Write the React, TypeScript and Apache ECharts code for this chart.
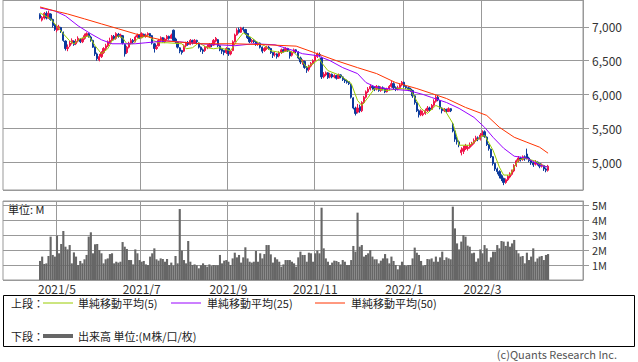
import React, { useEffect, useRef } from "react";
import * as echarts from "echarts";

const FONT = '"Noto Sans CJK JP", "Noto Sans", sans-serif';

// Japanese market holidays inside the displayed range
const holidays = [
  "2021-04-29", "2021-05-03", "2021-05-04", "2021-05-05", "2021-07-22", "2021-07-23",
  "2021-08-09", "2021-09-20", "2021-09-23", "2021-11-03", "2021-11-23", "2021-12-31",
  "2022-01-03", "2022-01-10", "2022-02-11", "2022-02-23", "2022-03-21", "2022-04-29",
  "2022-05-03", "2022-05-04", "2022-05-05",
];
const firstSlotDate = "2021-03-26";
const slotCount = 274;
const dataOffset = 17; // first candle = 2021/4/20

const monthTicks = ["2021/5", "2021/7", "2021/9", "2021/11", "2022/1", "2022/3"];

// [open, close, low, high] per trading day from 2021/4/20 to 2022/4/14
const candles: number[][] = [
  [7180, 7130, 7110, 7200], [7100, 7140, 7080, 7160], [7130, 7200, 7110, 7220], [7200, 7130, 7110, 7230], [7130, 7200, 7120, 7240],
  [7190, 7110, 7090, 7200], [7110, 7020, 6990, 7120], [7030, 6960, 6940, 7040], [6950, 7010, 6920, 7030], [6980, 7000, 6950, 7030],
  [6990, 6940, 6910, 7000], [6920, 6800, 6780, 6930], [6790, 6680, 6650, 6800], [6680, 6700, 6640, 6740], [6720, 6760, 6700, 6790],
  [6760, 6800, 6740, 6830], [6790, 6740, 6720, 6800], [6750, 6790, 6730, 6820], [6790, 6830, 6770, 6860], [6820, 6780, 6760, 6830],
  [6780, 6820, 6760, 6840], [6830, 6870, 6810, 6900], [6870, 6900, 6850, 6920], [6900, 6860, 6840, 6910], [6850, 6800, 6780, 6870],
  [6800, 6700, 6690, 6810], [6700, 6600, 6570, 6710], [6600, 6530, 6500, 6620], [6510, 6560, 6490, 6600], [6560, 6620, 6540, 6640],
  [6620, 6680, 6600, 6700], [6680, 6720, 6650, 6750], [6720, 6780, 6700, 6800], [6770, 6800, 6750, 6840], [6800, 6860, 6790, 6880],
  [6860, 6820, 6800, 6880], [6830, 6900, 6810, 6920], [6890, 6860, 6840, 6910], [6860, 6880, 6840, 6900], [6870, 6760, 6740, 6880],
  [6740, 6600, 6560, 6750], [6620, 6700, 6600, 6720], [6700, 6760, 6680, 6780], [6760, 6800, 6740, 6830], [6800, 6780, 6760, 6820],
  [6790, 6850, 6770, 6870], [6850, 6880, 6830, 6900], [6880, 6840, 6820, 6890], [6840, 6900, 6830, 6920], [6890, 6860, 6850, 6900],
  [6860, 6880, 6840, 6900], [6880, 6900, 6860, 6920], [6900, 6860, 6840, 6910], [6870, 6760, 6740, 6880], [6750, 6680, 6620, 6760],
  [6680, 6700, 6660, 6730], [6720, 6800, 6710, 6820], [6800, 6840, 6780, 6860], [6840, 6780, 6770, 6850], [6780, 6820, 6760, 6840],
  [6820, 6860, 6800, 6880], [6860, 6830, 6810, 6870], [6830, 6880, 6820, 6900], [6950, 6800, 6790, 6960], [6820, 6780, 6760, 6840],
  [6770, 6700, 6680, 6780], [6690, 6640, 6610, 6700], [6650, 6620, 6590, 6660], [6640, 6720, 6630, 6740], [6720, 6760, 6700, 6780],
  [6760, 6740, 6720, 6790], [6740, 6800, 6730, 6820], [6800, 6760, 6740, 6810], [6760, 6800, 6750, 6820], [6800, 6780, 6760, 6810],
  [6760, 6700, 6680, 6770], [6700, 6660, 6630, 6710], [6660, 6640, 6600, 6680], [6650, 6700, 6630, 6720], [6690, 6710, 6670, 6740],
  [6700, 6740, 6690, 6760], [6740, 6730, 6700, 6760], [6730, 6800, 6720, 6820], [6790, 6830, 6770, 6850], [6810, 6720, 6700, 6820],
  [6720, 6660, 6640, 6730], [6670, 6640, 6600, 6680], [6650, 6620, 6580, 6660], [6620, 6680, 6600, 6700], [6680, 6600, 6570, 6690],
  [6600, 6640, 6580, 6660], [6650, 6780, 6640, 6800], [6780, 6880, 6770, 6900], [6880, 6950, 6870, 6980], [6960, 6920, 6900, 6990],
  [6920, 6980, 6910, 7000], [6980, 6960, 6930, 7000], [6960, 6900, 6880, 6970], [6900, 6840, 6820, 6910], [6840, 6780, 6760, 6850],
  [6780, 6800, 6760, 6820], [6800, 6780, 6760, 6820], [6780, 6740, 6720, 6790], [6740, 6760, 6720, 6780], [6760, 6700, 6680, 6770],
  [6700, 6640, 6610, 6710], [6650, 6680, 6630, 6700], [6680, 6700, 6660, 6720], [6700, 6680, 6660, 6720], [6680, 6620, 6600, 6690],
  [6620, 6580, 6540, 6630], [6590, 6600, 6560, 6630], [6600, 6560, 6530, 6610], [6570, 6620, 6550, 6640], [6620, 6660, 6600, 6680],
  [6660, 6640, 6620, 6680], [6640, 6680, 6630, 6700], [6680, 6650, 6630, 6690], [6640, 6570, 6530, 6650], [6580, 6620, 6560, 6640],
  [6620, 6660, 6610, 6680], [6660, 6640, 6610, 6670], [6630, 6540, 6520, 6640], [6540, 6480, 6450, 6560], [6490, 6500, 6440, 6520],
  [6490, 6400, 6380, 6500], [6400, 6360, 6320, 6420], [6370, 6420, 6340, 6440], [6420, 6460, 6400, 6480], [6460, 6500, 6440, 6520],
  [6500, 6560, 6490, 6580], [6560, 6600, 6540, 6620], [6590, 6580, 6550, 6620], [6540, 6260, 6230, 6560], [6260, 6300, 6240, 6330],
  [6290, 6320, 6270, 6340], [6320, 6250, 6230, 6330], [6260, 6300, 6240, 6320], [6300, 6260, 6240, 6310], [6260, 6280, 6240, 6300],
  [6280, 6240, 6220, 6290], [6240, 6290, 6230, 6310], [6290, 6260, 6240, 6300], [6260, 6220, 6200, 6270], [6220, 6200, 6170, 6240],
  [6200, 6180, 6160, 6220], [6190, 6160, 6140, 6200], [6150, 5960, 5940, 6160], [5950, 5800, 5780, 5960], [5800, 5720, 5690, 5820],
  [5740, 5800, 5720, 5860], [5820, 5760, 5730, 5850], [5760, 5880, 5740, 5900], [5880, 5960, 5860, 5980], [5960, 6040, 5940, 6060],
  [6040, 6080, 6020, 6110], [6080, 6120, 6060, 6150], [6120, 6100, 6070, 6140], [6100, 6080, 6050, 6120], [6080, 6120, 6060, 6140],
  [6120, 6060, 6040, 6130], [6060, 6100, 6040, 6120], [6100, 6080, 6060, 6120], [6080, 6040, 6020, 6100], [6040, 6080, 6030, 6100],
  [6080, 6120, 6060, 6140], [6120, 6160, 6100, 6200], [6160, 6100, 6080, 6180], [6100, 6080, 6050, 6120], [6080, 6100, 6060, 6130],
  [6100, 6140, 6080, 6160], [6140, 6180, 6120, 6200], [6180, 6120, 6100, 6190], [6120, 6100, 6080, 6140], [6100, 6080, 6050, 6120],
  [6080, 6060, 6040, 6100], [6060, 5980, 5950, 6070], [5980, 5880, 5850, 5990], [5880, 5760, 5740, 5890], [5760, 5700, 5660, 5780],
  [5700, 5760, 5680, 5780], [5700, 5720, 5680, 5760], [5720, 5760, 5700, 5790], [5760, 5800, 5740, 5830], [5800, 5780, 5750, 5820],
  [5780, 5840, 5770, 5860], [5840, 5900, 5820, 5930], [5900, 5960, 5880, 5990], [5960, 5920, 5900, 5980], [5910, 5800, 5780, 5920],
  [5800, 5760, 5720, 5810], [5760, 5780, 5740, 5800], [5780, 5750, 5730, 5790], [5750, 5790, 5740, 5810], [5790, 5760, 5740, 5800],
  [5560, 5460, 5440, 5580], [5460, 5340, 5300, 5470], [5340, 5300, 5260, 5380], [5300, 5260, 5220, 5320], [5140, 5180, 5100, 5220],
  [5160, 5200, 5120, 5240], [5200, 5240, 5180, 5270], [5200, 5220, 5170, 5250], [5220, 5260, 5200, 5290], [5250, 5280, 5230, 5300],
  [5280, 5320, 5260, 5350], [5320, 5360, 5300, 5390], [5360, 5340, 5310, 5380], [5340, 5400, 5320, 5430], [5400, 5420, 5380, 5470],
  [5450, 5380, 5360, 5470], [5370, 5260, 5240, 5380], [5260, 5200, 5170, 5270], [5190, 5080, 5060, 5200], [5080, 4980, 4950, 5090],
  [4980, 4900, 4870, 4990], [4900, 4860, 4820, 4920], [4860, 4800, 4760, 4880], [4800, 4760, 4720, 4820], [4760, 4700, 4660, 4770],
  [4700, 4740, 4680, 4760], [4740, 4790, 4720, 4810], [4780, 4820, 4760, 4850], [4820, 4870, 4800, 4890], [4870, 4950, 4850, 4970],
  [4950, 5020, 4930, 5040], [5020, 5060, 5000, 5090], [5060, 5040, 5010, 5080], [5040, 5080, 5020, 5100], [5080, 5050, 5020, 5100],
  [5120, 5060, 5040, 5200], [5060, 5020, 5000, 5080], [5020, 4990, 4960, 5040], [4990, 4960, 4930, 5010], [4970, 5000, 4950, 5030],
  [5000, 4980, 4950, 5010], [4980, 4940, 4910, 4990], [4940, 4960, 4920, 4980], [4950, 4900, 4870, 4960], [4900, 4880, 4850, 4920],
  [4880, 4940, 4860, 4960],
];

// volume in millions of shares, same days as candles
const volumes: number[] = [
  1.27, 1.56, 1.07, 1.11, 1.6, 2.89, 1.67, 1.56, 2.96, 1.78,
  2.4, 3.27, 2.22, 2.04, 2.33, 1.11, 1.84, 1.56, 1.0, 1.27,
  1.11, 1.38, 1.67, 2.89, 3.18, 1.78, 2.38, 2.4, 2.0, 1.78,
  1.11, 1.38, 1.44, 1.73, 1.78, 1.11, 1.22, 1.16, 1.22, 2.53,
  2.22, 2.07, 1.33, 1.33, 1.04, 2.04, 1.78, 1.33, 1.22, 1.27,
  1.04, 1.0, 1.56, 1.78, 2.11, 1.38, 1.29, 1.44, 1.4, 1.22,
  1.4, 1.0, 1.16, 0.96, 1.6, 1.11, 4.73, 1.96, 1.33, 1.11,
  2.6, 1.22, 1.0, 1.04, 0.98, 0.78, 0.98, 1.11, 1.0, 0.89,
  1.04, 0.93, 1.0, 0.98, 0.98, 1.67, 1.11, 1.29, 1.33, 1.22,
  1.0, 1.44, 1.82, 1.51, 1.67, 1.16, 1.51, 2.18, 1.44, 1.22,
  1.16, 1.22, 1.93, 1.22, 1.78, 1.44, 1.73, 2.33, 2.33, 1.71,
  1.16, 1.51, 1.38, 1.22, 0.89, 1.04, 1.33, 1.33, 1.33, 1.22,
  1.11, 0.89, 1.51, 1.89, 1.67, 1.67, 1.22, 1.82, 1.78, 1.22,
  1.78, 1.96, 1.78, 4.82, 2.11, 1.44, 1.22, 1.0, 1.16, 1.29,
  1.27, 1.2, 1.04, 1.33, 1.22, 1.0, 1.0, 1.33, 2.27, 1.89,
  4.49, 2.22, 2.33, 1.56, 1.67, 1.78, 2.0, 1.56, 1.38, 1.38,
  1.11, 1.29, 1.44, 1.73, 1.44, 1.11, 1.56, 1.27, 1.0, 0.71,
  0.96, 1.22, 1.0, 0.93, 1.0, 1.0, 1.44, 2.16, 1.82, 1.67,
  1.27, 0.93, 1.0, 1.4, 1.38, 1.44, 1.22, 1.56, 1.22, 1.51,
  1.89, 1.33, 1.51, 1.44, 1.38, 4.89, 3.44, 2.44, 2.04, 2.56,
  3.0, 2.89, 2.29, 2.22, 1.78, 1.82, 1.22, 1.44, 2.04, 1.78,
  2.33, 2.11, 1.22, 1.51, 1.89, 1.89, 2.33, 2.11, 2.6, 2.56,
  2.27, 2.56, 2.22, 2.44, 2.67, 2.0, 1.78, 1.56, 1.6, 1.11,
  1.82, 1.33, 1.56, 2.11, 1.22, 1.44, 1.56, 1.6, 1.33, 1.67,
  1.73,
];

// moving averages: [day index, value]
const ma5Points: number[][] = [
  [0, 7206], [5, 7118], [11, 6897], [14, 6794], [16, 6750], [19, 6824], [23, 6868], [26, 6721], [29, 6603],
  [32, 6676], [34, 6794], [37, 6868], [39, 6838], [41, 6750], [44, 6750], [46, 6824], [49, 6853], [51, 6868],
  [54, 6794], [56, 6765], [60, 6765], [67, 6750], [69, 6676], [72, 6691], [75, 6765], [79, 6691], [82, 6676],
  [85, 6691], [90, 6647], [93, 6794], [96, 6912], [100, 6838], [103, 6765], [106, 6721], [109, 6647], [114, 6618],
  [117, 6647], [120, 6618], [123, 6529], [126, 6397], [129, 6456], [132, 6529], [133, 6471], [136, 6353],
  [142, 6279], [147, 6162], [150, 5912], [152, 5838], [155, 5956], [158, 6088], [164, 6059], [170, 6088],
  [175, 6074], [177, 5956], [180, 5794], [183, 5721], [187, 5838], [191, 5780], [195, 5574], [197, 5368],
  [198, 5250], [203, 5250], [208, 5368], [210, 5397], [214, 5176], [217, 4926], [219, 4809], [222, 4809],
  [224, 4926], [226, 5029], [229, 5059], [234, 5015], [237, 4956], [240, 4926],
];
const ma25Points: number[][] = [
  [0, 7280], [7, 7235], [12, 7162], [18, 7015], [24, 6897], [29, 6809], [34, 6750], [45, 6750], [50, 6765],
  [60, 6794], [76, 6750], [92, 6721], [101, 6750], [111, 6735], [120, 6647], [124, 6603], [131, 6574],
  [137, 6500], [143, 6397], [150, 6309], [154, 6176], [159, 6103], [168, 6074], [174, 6059], [181, 6000],
  [185, 5956], [192, 5882], [198, 5794], [205, 5662], [210, 5515], [214, 5368], [219, 5206], [224, 5088],
  [230, 5059], [236, 4956], [240, 4926],
];
const ma50Points: number[][] = [
  [0, 7294], [7, 7235], [13, 7191], [21, 7118], [29, 7044], [37, 6971], [45, 6897], [53, 6838], [60, 6790],
  [76, 6750], [92, 6750], [107, 6735], [121, 6715], [131, 6603], [140, 6500], [150, 6397], [159, 6309],
  [168, 6176], [178, 6088], [185, 6015], [192, 5941], [201, 5809], [211, 5691], [217, 5515], [224, 5368],
  [230, 5294], [236, 5221], [240, 5132],
];

const legendLabels = ["単純移動平均(5)", "単純移動平均(25)", "単純移動平均(50)"];
const maColors = ["#99cc00", "#9900ff", "#ff3300"];
const volumeLegend = "出来高 単位:(M株/口/枚)";

const UP = "#f0144a";
const DOWN = "#0b3a9c";
const GRID = "#999999";

function tradingDays(start: string, count: number, closed: string[]): string[] {
  const out: string[] = [];
  const d = new Date(start + "T00:00:00Z");
  while (out.length < count) {
    const dow = d.getUTCDay();
    const iso = d.toISOString().slice(0, 10);
    if (dow !== 0 && dow !== 6 && !closed.includes(iso)) {
      out.push(`${d.getUTCFullYear()}/${d.getUTCMonth() + 1}/${d.getUTCDate()}`);
    }
    d.setUTCDate(d.getUTCDate() + 1);
  }
  return out;
}

const monthKey = (s: string) => s.split("/").slice(0, 2).join("/");

export default function App() {
  const ref = useRef<HTMLDivElement>(null);

  useEffect(() => {
    if (!ref.current) return;
    const chart = echarts.init(ref.current, undefined, { renderer: "svg" });
    const categories = tradingDays(firstSlotDate, slotCount, holidays);
    const isMonthTick = (index: number) => {
      const key = monthKey(categories[index]);
      return monthTicks.includes(key) && (index === 0 || monthKey(categories[index - 1]) !== key);
    };

    const candleRows = candles.map((c, i) => [i + dataOffset, c[0], c[1], c[2], c[3]]);
    const volRows = volumes.map((v, i) => [i + dataOffset, v]);
    const maSeries = [ma5Points, ma25Points, ma50Points].map((pts, k) => ({
      type: "line",
      xAxisIndex: 0,
      yAxisIndex: 0,
      data: pts.map(([i, v]) => [i + dataOffset, v]),
      symbol: "none",
      lineStyle: { color: maColors[k], width: 1 },
      silent: true,
      z: 3 + k,
    }));

    // price scale: 7,000 at y=26, 5,000 at y=162, grid spans y=-1..190
    const pxPer = 2000 / 136;
    const priceMax = 7000 + 27 * pxPer;
    const priceMin = 5000 - 28 * pxPer;
    const volMax = 79 / 15;

    const labelStyle = { fontSize: 12, color: "#333", fontFamily: FONT, lineHeight: 12 };
    const volLabelStyle = { fontSize: 11, color: "#333", fontFamily: FONT, lineHeight: 11 };

    const legendGraphics: any[] = [
      {
        type: "rect",
        shape: { x: 3.5, y: 295.5, width: 631, height: 51 },
        style: { fill: "none", stroke: "#000", lineWidth: 1 },
      },
      {
        type: "text", x: 11, y: 303,
        style: { text: "上段：", font: `11px ${FONT}`, fill: "#222", verticalAlign: "middle" },
      },
      {
        type: "text", x: 11, y: 336,
        style: { text: "下段：", font: `11px ${FONT}`, fill: "#222", verticalAlign: "middle" },
      },
      {
        type: "line",
        shape: { x1: 43, y1: 336, x2: 73, y2: 336 },
        style: { stroke: "#666", lineWidth: 4 },
      },
      {
        type: "text", x: 78, y: 336,
        style: { text: volumeLegend, font: `11px ${FONT}`, fill: "#222", verticalAlign: "middle" },
      },
      {
        type: "text", x: 8, y: 209,
        style: { text: "単位: M", font: `11px ${FONT}`, fill: "#222", verticalAlign: "middle" },
      },
      {
        type: "text", x: 617, y: 354,
        style: { text: "(c)Quants Research Inc.", font: `11px ${FONT}`, fill: "#555", align: "right", verticalAlign: "middle" },
      },
    ];
    const lineStarts = [43, 171, 315];
    const textStarts = [78, 207, 351];
    legendLabels.forEach((label, k) => {
      legendGraphics.push({
        type: "line",
        shape: { x1: lineStarts[k], y1: 303, x2: lineStarts[k] + 30, y2: 303 },
        style: { stroke: maColors[k], lineWidth: 1 },
      });
      legendGraphics.push({
        type: "text", x: textStarts[k], y: 303,
        style: { text: label, font: `11px ${FONT}`, fill: "#222", verticalAlign: "middle" },
      });
    });

    const option: any = {
      animation: false,
      textStyle: { fontFamily: FONT },
      grid: [
        { left: 3, right: 55, top: -1, height: 191, show: true, borderColor: GRID, borderWidth: 1 },
        { left: 3, right: 55, top: 201, height: 79, show: true, borderColor: GRID, borderWidth: 1 },
      ],
      xAxis: [
        {
          type: "category", gridIndex: 0, data: categories, boundaryGap: true,
          axisLine: { show: false }, axisTick: { show: false }, axisLabel: { show: false },
          splitLine: { show: true, interval: isMonthTick, lineStyle: { color: GRID, width: 1 } },
        },
        {
          type: "category", gridIndex: 1, data: categories, boundaryGap: true,
          axisLine: { show: false }, axisTick: { show: false },
          axisLabel: {
            show: true, interval: isMonthTick, formatter: (v: string) => monthKey(v),
            margin: 2, ...labelStyle,
          },
          splitLine: { show: true, interval: isMonthTick, lineStyle: { color: GRID, width: 1 } },
        },
      ],
      yAxis: [
        {
          type: "value", gridIndex: 0, position: "right", min: priceMin, max: priceMax, splitNumber: 5,
          axisLine: { show: true, lineStyle: { color: GRID } },
          axisTick: { show: true, length: 6, lineStyle: { color: GRID } },
          axisLabel: {
            showMinLabel: false, showMaxLabel: false, margin: 9,
            formatter: (v: number) => Math.round(v).toLocaleString("en-US"), ...labelStyle,
          },
          splitLine: { show: true, lineStyle: { color: GRID, width: 1 } },
        },
        {
          type: "value", gridIndex: 1, position: "right", min: 0, max: volMax, splitNumber: 5,
          axisLine: { show: true, lineStyle: { color: GRID } },
          axisTick: { show: true, length: 6, lineStyle: { color: GRID } },
          axisLabel: {
            showMinLabel: false, showMaxLabel: false, margin: 9,
            formatter: (v: number) => `${Math.round(v)}M`, ...volLabelStyle,
          },
          splitLine: { show: true, lineStyle: { color: GRID, width: 1 } },
        },
      ],
      series: [
        {
          type: "candlestick", xAxisIndex: 0, yAxisIndex: 0,
          data: candleRows,
          encode: { x: 0, y: [1, 2, 3, 4] },
          barWidth: "85%",
          itemStyle: { color: UP, color0: DOWN, borderColor: UP, borderColor0: DOWN, borderWidth: 1 },
          silent: true, z: 2,
        },
        ...maSeries,
        {
          type: "bar", xAxisIndex: 1, yAxisIndex: 1,
          data: volRows,
          barWidth: "100%",
          itemStyle: { color: "#666666" },
          silent: true,
        },
      ],
      graphic: legendGraphics,
    };

    chart.setOption(option);
    return () => chart.dispose();
  }, []);

  return (
    <div
      ref={ref}
      style={{ position: "fixed", left: 0, top: 0, width: 638, height: 362, background: "#fff" }}
    />
  );
}
